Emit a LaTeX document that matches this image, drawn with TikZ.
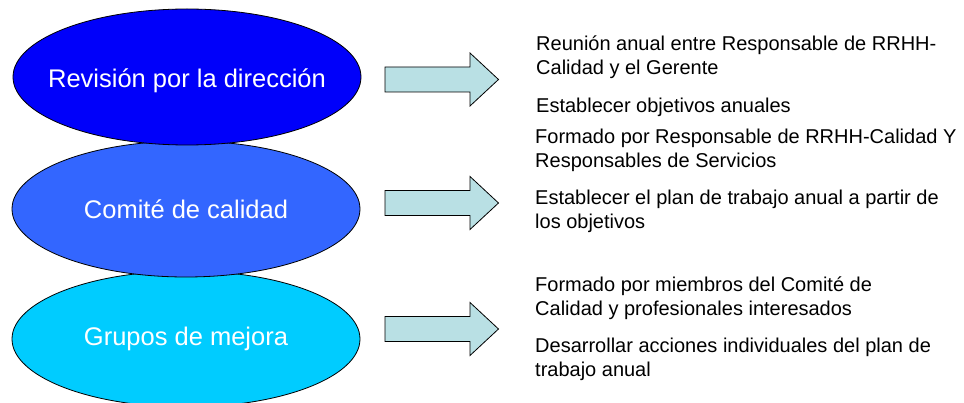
\documentclass[tikz,border=0pt]{standalone}
\usepackage{fontspec}
\setmainfont{Liberation Sans}
\usetikzlibrary{shapes.geometric,positioning}
\definecolor{direccionBlue}{RGB}{0,0,250}
\definecolor{comiteBlue}{RGB}{51,102,255}
\definecolor{grupoCyan}{RGB}{0,204,255}
\definecolor{arrowCyan}{RGB}{185,224,228}

\begin{document}
\begin{tikzpicture}[
        x=1pt, y=-1pt,
        oval/.style={ellipse, draw=black, line width=0.8pt,
          minimum width=348pt, minimum height=136pt,
          inner xsep=-40pt, inner ysep=0pt,
          text=white, font=\fontsize{25.5}{30}\selectfont},
        flecha/.style={draw=black, line width=0.8pt, fill=arrowCyan},
        nota/.style={anchor=west, align=left, inner sep=0pt,
          font=\fontsize{20}{24}\selectfont}
      ]
        \useasboundingbox (0,0) rectangle (964,403);

        % Ellipses (bottom one first)
        \node[oval, fill=grupoCyan] (grupos) at (186,339) {Grupos de mejora};
        \node[oval, fill=comiteBlue] (comite) at (186,209) {Comité de calidad};
        \node[oval, fill=direccionBlue, text height=22pt, text depth=0pt] (rev) at (187,77) {Revisión por la dirección};

        % Block arrows
        \foreach \yc in {79.5,203,329}
          \draw[flecha] (385,\yc-12.5) -- (470,\yc-12.5) -- (470,\yc-26.5)
            -- (498.5,\yc) -- (470,\yc+26.5) -- (470,\yc+12.5)
            -- (385,\yc+12.5) -- cycle;

        % Texts
        \node[nota] (t1) at (536,57.5) {Reunión anual entre Responsable de RRHH-\\Calidad y el Gerente};
        \node[nota] (t2) at (536,107) {Establecer objetivos anuales};
        \node[nota] (t3) at (535,150.5) {Formado por Responsable de RRHH-Calidad Y\\Responsables de Servicios};
        \node[nota] (t4) at (535,211.5) {Establecer el plan de trabajo anual a partir de\\los objetivos};
        \node[nota] (t5) at (535,298.5) {Formado por miembros del Comité de\\Calidad y profesionales interesados};
        \node[nota] (t6) at (535,359) {Desarrollar acciones individuales del plan de\\trabajo anual};
      \end{tikzpicture}
\end{document}
